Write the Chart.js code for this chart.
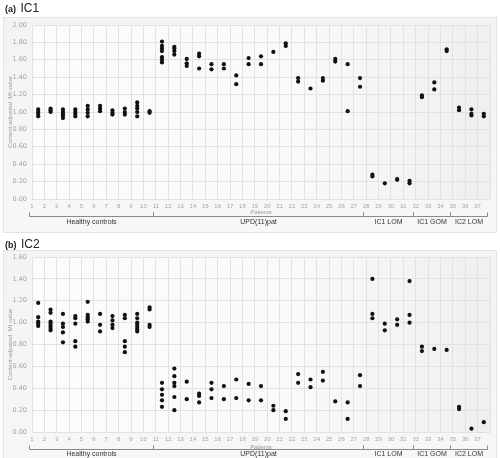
<!DOCTYPE html>
<html>
<head>
<meta charset="utf-8">
<script src="https://cdn.jsdelivr.net/npm/chart.js@4.4.1/dist/chart.umd.min.js"></script>
<style>
  html, body { margin: 0; padding: 0; background: #ffffff; }
  #wrap { position: relative; width: 500px; height: 458px; overflow: hidden; font-family: "Liberation Sans", Arial, sans-serif; }
  canvas { position: absolute; left: 0; }
  #c1 { top: 0; }
  #c2 { top: 236px; }
  .ttl { position: absolute; left: 5px; color: #222; white-space: nowrap; line-height: 1; z-index: 2; }
  .ttl b { font-size: 9px; font-weight: bold; }
  .ttl span { font-size: 12px; }
</style>
</head>
<body>
<div id="wrap">
  <canvas id="c1" width="500" height="236"></canvas>
  <canvas id="c2" width="500" height="222"></canvas>
  <div class="ttl" style="top:-1px"><b>(a)</b> <span>IC1</span></div>
  <div class="ttl" style="top:235px"><b>(b)</b> <span>IC2</span></div>
</div>
<script>
// Patient numbers shown on the x axis
const patients = Array.from({ length: 37 }, (_, i) => i + 1);

// Patient groups: first patient and the boundary after the last one
const groupNames  = ['Healthy controls', 'UPD(11)pat', 'IC1 LOM', 'IC1 GOM', 'IC2 LOM'];
const groupStarts = [1, 11, 28, 32, 35];
const groupEnds   = [11, 28, 32, 35, 38];

// Content-adjusted MI values at IC1, one list per patient (1..37)
const ic1Values = [
  [1.03, 1.00, 0.98, 0.95],
  [1.04, 1.02, 1.00],
  [1.03, 1.00, 0.98, 0.96, 0.93],
  [1.03, 1.00, 0.98, 0.95],
  [1.07, 1.03, 0.99, 0.95],
  [1.07, 1.04, 1.01],
  [1.02, 0.99, 0.97],
  [1.04, 1.00, 0.97],
  [1.11, 1.07, 1.04, 1.00, 0.95],
  [1.01, 0.99],
  [1.81, 1.76, 1.73, 1.70, 1.63, 1.60, 1.57],
  [1.75, 1.73, 1.70, 1.66],
  [1.61, 1.56, 1.53],
  [1.67, 1.64, 1.50],
  [1.55, 1.49],
  [1.55, 1.50],
  [1.42, 1.32],
  [1.62, 1.55],
  [1.64, 1.55],
  [1.69],
  [1.79, 1.76],
  [1.39, 1.35],
  [1.27],
  [1.39, 1.36],
  [1.61, 1.58],
  [1.55, 1.01],
  [1.39, 1.29],
  [0.28, 0.26],
  [0.18],
  [0.23, 0.22],
  [0.21, 0.18],
  [1.19, 1.17],
  [1.34, 1.26],
  [1.72, 1.70],
  [1.05, 1.02],
  [1.03, 0.98, 0.96],
  [0.98, 0.95]
];

// Content-adjusted MI values at IC2, one list per patient (1..37)
const ic2Values = [
  [1.18, 1.05, 1.01, 0.99, 0.97],
  [1.12, 1.09, 1.01, 0.99, 0.97, 0.95, 0.93],
  [1.08, 0.99, 0.96, 0.91, 0.82],
  [1.06, 1.04, 0.99, 0.83, 0.78],
  [1.19, 1.07, 1.05, 1.03, 1.01],
  [1.08, 0.98, 0.92],
  [1.06, 1.02, 0.98, 0.95],
  [1.07, 1.04, 0.83, 0.78, 0.73],
  [1.08, 1.04, 1.00, 0.98, 0.96, 0.94, 0.92],
  [1.14, 1.12, 0.98, 0.96],
  [0.45, 0.39, 0.34, 0.29, 0.23],
  [0.58, 0.51, 0.45, 0.42, 0.32, 0.20],
  [0.46, 0.30],
  [0.35, 0.33, 0.27],
  [0.45, 0.39, 0.31],
  [0.42, 0.30],
  [0.48, 0.31],
  [0.44, 0.29],
  [0.42, 0.29],
  [0.24, 0.20],
  [0.19, 0.12],
  [0.53, 0.45],
  [0.48, 0.41],
  [0.55, 0.47],
  [0.28],
  [0.27, 0.12],
  [0.52, 0.42],
  [1.40, 1.08, 1.04],
  [0.99, 0.93],
  [1.03, 0.98],
  [1.38, 1.07, 1.00],
  [0.78, 0.74],
  [0.76],
  [0.75],
  [0.23, 0.21],
  [0.03],
  [0.09]
];

const yTitle = 'Content-adjusted  MI value';
const xTitle = 'Patients';

// Each patient occupies the band between two integer grid lines
function toPoints(values) {
  const pts = [];
  values.forEach((list, i) => {
    list.forEach(v => pts.push({ x: patients[i] + 0.5, y: v }));
  });
  return pts;
}

// Shaded panel behind the whole chart and a soft fill inside the plot area
const panelPlugin = {
  id: 'panel',
  beforeDraw(chart, args, o) {
    const ctx = chart.ctx, a = chart.chartArea;
    ctx.save();
    const pg = ctx.createLinearGradient(0, o.top, 0, o.bottom);
    pg.addColorStop(0, '#f3f3f3');
    pg.addColorStop(1, '#f7f7f7');
    ctx.fillStyle = pg;
    ctx.fillRect(o.left, o.top, o.right - o.left, o.bottom - o.top);
    ctx.strokeStyle = '#e3e3e3';
    ctx.lineWidth = 1;
    ctx.strokeRect(o.left + 0.5, o.top + 0.5, o.right - o.left - 1, o.bottom - o.top - 1);
    const g = ctx.createLinearGradient(a.left, 0, a.right, 0);
    g.addColorStop(0, '#fcfcfc');
    g.addColorStop(0.6, '#f9f9f9');
    g.addColorStop(1, '#efefef');
    ctx.fillStyle = g;
    ctx.fillRect(a.left, a.top, a.right - a.left, a.bottom - a.top);
    ctx.restore();
  }
};

// Group brackets, group names, x title and the rotated y title
const bracketPlugin = {
  id: 'brackets',
  afterDraw(chart, args, o) {
    const ctx = chart.ctx, xs = chart.scales.x, a = chart.chartArea;
    ctx.save();
    ctx.strokeStyle = '#8a8a8a';
    ctx.lineWidth = 1;
    const yl = o.lineY + 0.5;
    groupNames.forEach((name, i) => {
      const x0 = Math.round(xs.getPixelForValue(groupStarts[i])) - 2.5;
      const x1 = Math.round(xs.getPixelForValue(groupEnds[i])) - 2.5;
      ctx.beginPath();
      ctx.moveTo(x0, yl - 4);
      ctx.lineTo(x0, yl);
      ctx.lineTo(x1, yl);
      ctx.lineTo(x1, yl - 4);
      ctx.stroke();
      ctx.fillStyle = '#333333';
      ctx.font = '7px "Liberation Sans", Arial, sans-serif';
      ctx.textAlign = 'center';
      ctx.textBaseline = 'middle';
      ctx.fillText(name, (x0 + x1) / 2, o.groupY);
    });
    ctx.fillStyle = '#9a9a9a';
    ctx.font = '6px "Liberation Sans", Arial, sans-serif';
    ctx.textAlign = 'center';
    ctx.textBaseline = 'middle';
    ctx.fillText(xTitle, (a.left + a.right) / 2, o.titleY);
    ctx.translate(10, (a.top + a.bottom) / 2);
    ctx.rotate(-Math.PI / 2);
    ctx.fillText(yTitle, 0, 0);
    ctx.restore();
  }
};

function makeChart(id, values, yMax, pad, xHeight, panel, brackets) {
  return new Chart(document.getElementById(id), {
    type: 'scatter',
    data: {
      datasets: [{
        data: toPoints(values),
        backgroundColor: '#111111',
        borderColor: '#111111',
        borderWidth: 0,
        pointRadius: 2.1,
        pointHoverRadius: 2.1
      }]
    },
    options: {
      responsive: false,
      animation: false,
      events: [],
      layout: { padding: { left: 4, right: 10, top: pad, bottom: 0 } },
      plugins: {
        legend: { display: false },
        tooltip: { enabled: false },
        title: { display: false },
        panel: panel,
        brackets: brackets
      },
      scales: {
        x: {
          type: 'linear',
          min: 1,
          max: 38,
          afterFit(scale) { scale.height = xHeight; },
          border: { display: false },
          grid: { color: '#e2e2e2', lineWidth: 1, drawTicks: false },
          ticks: {
            stepSize: 1,
            autoSkip: false,
            maxRotation: 0,
            padding: 4,
            color: '#a5a5a5',
            font: { family: '"Liberation Sans", Arial, sans-serif', size: 6 },
            callback: v => (v <= patients[patients.length - 1] ? String(v) : '')
          }
        },
        y: {
          min: 0,
          max: yMax,
          afterFit(scale) { scale.width = 28; },
          border: { display: false },
          grid: { color: '#e2e2e2', lineWidth: 1, drawTicks: false },
          ticks: {
            stepSize: 0.2,
            padding: 5,
            color: '#a5a5a5',
            font: { family: '"DejaVu Sans", sans-serif', size: 6.5 },
            callback: v => Number(v).toFixed(2)
          }
        }
      }
    },
    plugins: [panelPlugin, bracketPlugin]
  });
}

makeChart('c1', ic1Values, 2.0, 25, 37,
  { left: 3, top: 17, right: 497, bottom: 233 },
  { lineY: 216, groupY: 222, titleY: 212 });

makeChart('c2', ic2Values, 1.6, 21, 26,
  { left: 3, top: 14, right: 497, bottom: 240 },
  { lineY: 213, groupY: 218, titleY: 211 });
</script>
</body>
</html>
